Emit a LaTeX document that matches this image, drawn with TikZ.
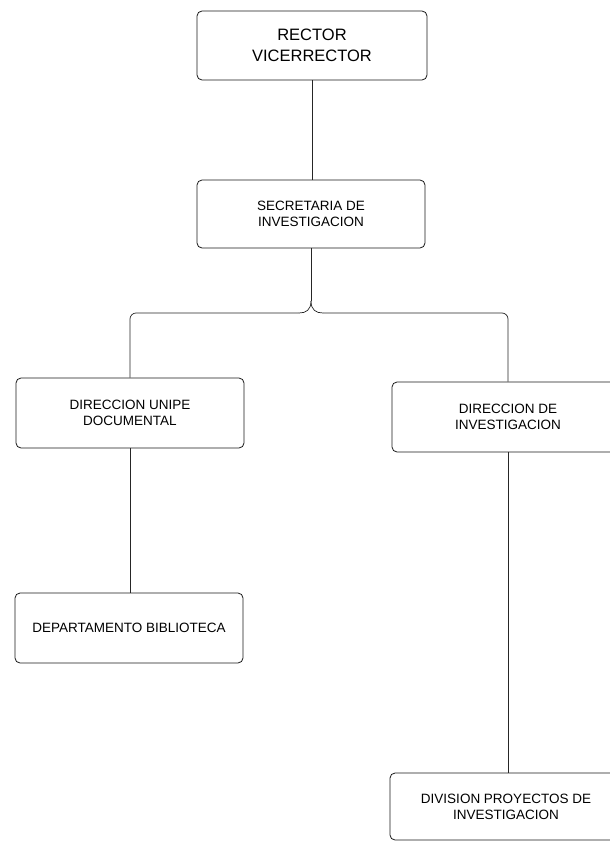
\documentclass[tikz,border=0pt]{standalone}
\usepackage{fontspec}
\setmainfont{Liberation Sans}
\begin{document}
\begin{tikzpicture}[x=1bp,y=-1bp,
  box/.style={draw=black!90, line width=0.8bp, rounded corners=5bp, align=center,
    inner sep=0pt, font=\fontsize{13.5bp}{16bp}\selectfont},
  conn/.style={draw=black!85, line width=0.7bp}]
\useasboundingbox (0,0) rectangle (610,844);
\node[box, minimum width=230bp, minimum height=69bp, font=\fontsize{16.5bp}{21bp}\selectfont] (b1) at (312,45.5) {RECTOR\\VICERRECTOR};
\node[box, minimum width=228bp, minimum height=68bp] (b2) at (311,214) {SECRETARIA DE\\INVESTIGACION};
\node[box, minimum width=228bp, minimum height=70bp] (b3) at (130,413) {DIRECCION UNIPE\\DOCUMENTAL};
\node[box, minimum width=232bp, minimum height=70bp] (b4) at (508,417) {DIRECCION DE\\INVESTIGACION};
\node[box, minimum width=228bp, minimum height=70bp] (b5) at (129,628) {DEPARTAMENTO BIBLIOTECA};
\node[box, minimum width=232bp, minimum height=67bp] (b6) at (506,806.5) {DIVISION PROYECTOS DE\\INVESTIGACION};
\coordinate (jt) at (311,301);
\coordinate (jl) at (299,313);
\coordinate (jr) at (323,313);
\draw[conn] (b1.south) -- (b1.south |- b2.north);
\draw[conn] (b2.south) -- (jt);
\draw[conn] (jt) .. controls (311,310) and (306,313) .. (jl);
\draw[conn] (jt) .. controls (311,310) and (316,313) .. (jr);
\draw[conn, rounded corners=6bp] (jl) -| (b3.north);
\draw[conn, rounded corners=6bp] (jr) -| (b4.north);
\draw[conn] (b3.south) -- (b3.south |- b5.north);
\draw[conn] (b4.south) -- (b4.south |- b6.north);
\end{tikzpicture}
\end{document}
